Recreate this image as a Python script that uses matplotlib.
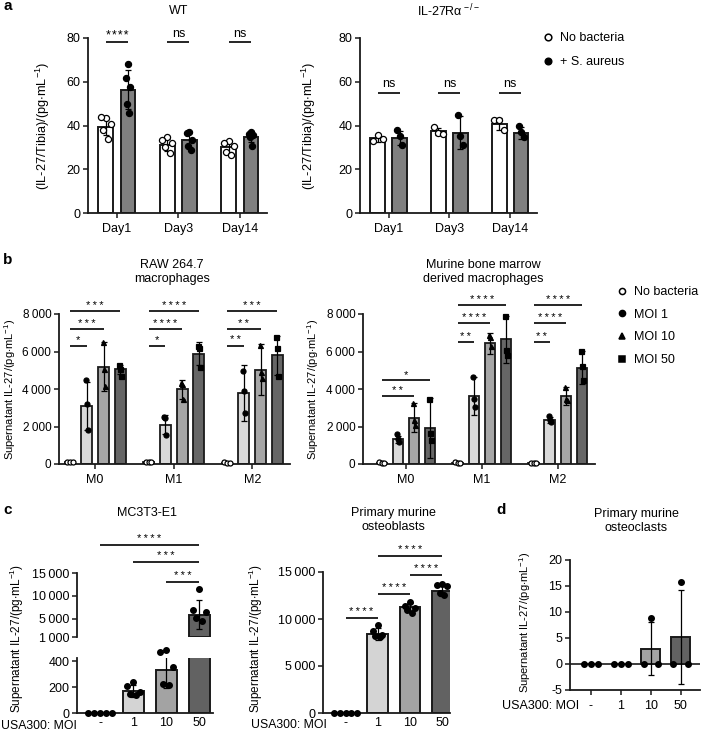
import numpy as np
import matplotlib
matplotlib.use("Agg")
import matplotlib.pyplot as plt
from matplotlib.lines import Line2D

W, H = 701, 733
plt.rcParams['font.family'] = ['Liberation Sans', 'DejaVu Sans']
plt.rcParams['font.size'] = 9
plt.rcParams['mathtext.fontset'] = 'custom'
plt.rcParams['mathtext.rm'] = 'Liberation Sans'
plt.rcParams['mathtext.default'] = 'regular'

# ---------------- panel a data ----------------
days = ["Day1", "Day3", "Day14"]
wt_ctrl_mean = [39.5, 31.2, 30.3]
wt_ctrl_sd = [3.8, 2.7, 2.5]
wt_ctrl_pts = [[43.4, 43.9, 40.8, 37.8, 33.8], [34.6, 33.5, 32.0, 30.0, 27.4], [33.0, 32.0, 30.5, 28.0, 26.7]]
wt_sa_mean = [56.4, 33.3, 34.8]
wt_sa_sd = [9.0, 3.3, 2.5]
wt_sa_pts = [[68.3, 61.7, 57.6, 50.0, 45.7], [36.9, 36.5, 33.5, 30.5, 28.6], [36.9, 36.0, 35.8, 34.7, 30.5]]
ko_ctrl_mean = [34.1, 37.4, 40.7]
ko_ctrl_sd = [1.5, 1.6, 2.7]
ko_ctrl_pts = [[32.8, 35.8, 33.8], [39.3, 36.8, 36.2], [42.7, 42.4, 37.8]]
ko_sa_mean = [34.3, 36.8, 36.6]
ko_sa_sd = [3.4, 7.6, 2.8]
ko_sa_pts = [[37.8, 35.0, 30.9], [45.0, 35.0, 30.9], [39.9, 36.9, 34.7]]
wt_sig = ["****", "ns", "ns"]
ko_sig = ["ns", "ns", "ns"]
wt_sig_y = 78
ko_sig_y = 55

# ---------------- panel b data ----------------
phenos = ["M0", "M1", "M2"]
moi_names = ["No bacteria", "MOI 1", "MOI 10", "MOI 50"]
raw_mean = [[100, 3080, 5200, 5050], [100, 2100, 3980, 5880], [80, 3800, 5040, 5800]]
raw_sd = [[20, 1290, 1300, 250], [20, 500, 520, 620], [20, 1490, 1350, 1050]]
raw_pts = [
    [[110, 100, 90], [4460, 3190, 1800], [6500, 5080, 4160], [5260, 5080, 4690]],
    [[110, 100, 90], [2510, 2480, 1540], [4320, 4280, 3490], [6270, 6200, 5200]],
    [[90, 80, 70], [4980, 3880, 2700], [6370, 4900, 4600], [6800, 6190, 4700]],
]
# (group, from bar, to bar, height, label)
raw_sig = [
    (0, 0, 1, 6320, "*"), (0, 0, 2, 7200, "***"), (0, 0, 3, 8140, "***"),
    (1, 0, 1, 6320, "*"), (1, 0, 2, 7200, "****"), (1, 0, 3, 8140, "****"),
    (2, 0, 1, 6320, "**"), (2, 0, 2, 7200, "**"), (2, 0, 3, 8140, "***"),
]
bmdm_mean = [[80, 1320, 2470, 1900], [80, 3640, 6430, 6650], [70, 2350, 3640, 5140]]
bmdm_sd = [[20, 200, 770, 1600], [20, 1020, 570, 1250], [20, 150, 480, 890]]
bmdm_pts = [
    [[90, 80, 70], [1600, 1316, 1190], [3236, 2347, 2080], [3450, 1636, 1280]],
    [[90, 80, 70], [4660, 3450, 3060], [6880, 6760, 6290], [7900, 6080, 5810]],
    [[80, 70, 60], [2580, 2350, 2260], [4120, 3450, 3410], [6030, 5230, 4480]],
]
bmdm_sig = [
    (0, 0, 2, 3640, "**"), (0, 0, 3, 4480, "*"),
    (1, 0, 1, 6490, "**"), (1, 0, 2, 7500, "****"), (1, 0, 3, 8480, "****"),
    (2, 0, 1, 6490, "**"), (2, 0, 2, 7500, "****"), (2, 0, 3, 8480, "****"),
]

# ---------------- panel c / d data ----------------
moi_ticks = ["-", "1", "10", "50"]
mc3t3_mean = [0, 170, 333, 5900]
mc3t3_sd = [0, 50, 140, 3100]
mc3t3_pts = [[0, 0, 0, 0, 0], [236, 205, 165, 150, 140], [487, 474, 354, 226, 218],
             [11500, 7000, 6500, 5150, 4580]]
mc3t3_sig = [(2, 3, 13030, "***"), (1, 3, 17320, "***"), (0, 3, 21040, "****")]

ob_mean = [0, 8400, 11240, 13010]
ob_sd = [0, 600, 420, 520]
ob_pts = [[0, 0, 0, 0, 0], [9400, 8690, 8330, 8160, 8050], [11800, 11420, 11170, 11000, 10640],
          [13720, 13650, 13480, 12770, 12590]]
ob_sig = [(0, 1, 10100, "****"), (1, 2, 12660, "****"), (2, 3, 14650, "****"), (1, 3, 16670, "****")]

oc_mean = [0, 0, 2.9, 5.2]
oc_sd = [0, 0, 5.1, 9.0]
oc_pts = [[0, 0, 0], [0, 0, 0], [0, 8.8, 0], [0, 15.7, 0]]

EDGE = '#1a1a1a'
TS = "\u2009"  # thin space used as thousands separator
b_colors = ['white', '#d9d9d9', '#a6a6a6', '#666666']
c_colors = ['white', '#d4d4d4', '#a3a3a3', '#626262']
b_markers = ['o', 'o', '^', 's']
b_faces = ['white', 'k', 'k', 'k']


def px_axes(fig, x0, y0, x1, y1):
    return fig.add_axes([x0 / W, 1 - y1 / H, (x1 - x0) / W, (y1 - y0) / H])


def style(ax, fs=9):
    for s in ['top', 'right']:
        ax.spines[s].set_visible(False)
    for s in ['left', 'bottom']:
        ax.spines[s].set_linewidth(1.3)
        ax.spines[s].set_color(EDGE)
    ax.tick_params(direction='out', length=3.5, width=1.1, color=EDGE, labelsize=fs, pad=2)


def thousands(vals):
    return [f"{v:,}".replace(",", TS) for v in vals]


def jitter(n):
    if n == 3:
        return np.array([-1.0, 0.0, 1.0])
    return np.array([0.0, -1.0, 1.0, -0.5, 0.5])[:n]


def bar_with_dots(ax, x, mean, sd, pts, width, color, marker='o', mfc='k', spread=0.05, ms=3.6,
                  lw=1.4, bottom=0):
    ax.bar(x, mean - bottom, width, bottom=bottom, color=color, edgecolor=EDGE, linewidth=lw, zorder=2)
    if sd > 0:
        ax.errorbar(x, mean, yerr=sd, fmt='none', ecolor='k', elinewidth=0.9, capsize=2.5,
                    capthick=0.9, zorder=3)
    pts = np.asarray(pts, dtype=float)
    ax.plot(x + spread * jitter(len(pts)), pts, linestyle='none', marker=marker, ms=ms,
            mfc=mfc, mec='k', mew=0.9, zorder=4, clip_on=False)


def sig_line(ax, x1, x2, y, label, fs=8, off=2.0):
    ax.plot([x1, x2], [y, y], color='k', lw=1.2, clip_on=False, solid_capstyle='butt')
    ax.annotate(label, xy=((x1 + x2) / 2, y), xytext=(0, off), textcoords='offset points',
                ha='center', va='baseline', fontsize=fs, annotation_clip=False)


fig = plt.figure(figsize=(W / 100, H / 100), dpi=100)

# ================= panel a =================
a_off, a_w = 0.18, 0.24
ylab_a = r"(IL-27/Tibia)/(pg$\cdot$mL$^{-1}$)"
for (x0, x1, cm, cs, cp, sm, ss, sp, sig, sy, title, tx, ylx) in [
        (88, 267, wt_ctrl_mean, wt_ctrl_sd, wt_ctrl_pts, wt_sa_mean, wt_sa_sd, wt_sa_pts,
         wt_sig, wt_sig_y, "WT", 179, 52),
        (360, 537, ko_ctrl_mean, ko_ctrl_sd, ko_ctrl_pts, ko_sa_mean, ko_sa_sd, ko_sa_pts,
         ko_sig, ko_sig_y, r"IL-27R$\alpha$ $^{-/-}$", 448, 318)]:
    ax = px_axes(fig, x0, 38, x1, 213)
    style(ax)
    for i in range(len(days)):
        bar_with_dots(ax, i - a_off, cm[i], cs[i], cp[i], a_w, 'white', 'o', 'white', spread=0.08, ms=4.4)
        bar_with_dots(ax, i + a_off, sm[i], ss[i], sp[i], a_w, '#808080', 'o', 'k', spread=0.04, ms=4.4)
        lab = sig[i] if sig[i] == 'ns' else "\u200a".join(sig[i])
        sig_line(ax, i - a_off, i + a_off, sy, lab, fs=9, off=4.0 if sig[i] == 'ns' else 2.5)
    ax.set_xlim(-0.47, 2.44)
    ax.set_ylim(0, 80)
    ax.set_yticks([0, 20, 40, 60, 80])
    ax.set_xticks(range(len(days)))
    ax.set_xticklabels(days)
    ax.tick_params(axis='x', pad=4)
    ax.set_ylabel(ylab_a, fontsize=9.2)
    ax.yaxis.set_label_coords((ylx - x0) / (x1 - x0), 0.5)
    fig.text(tx / W, 1 - 11 / H, title, ha='center', va='center', fontsize=9)

fig.legend(handles=[Line2D([], [], ls='none', marker='o', ms=4.8, mfc='white', mec='k', mew=1.1),
                    Line2D([], [], ls='none', marker='o', ms=4.8, mfc='k', mec='k')],
           labels=["No bacteria", "+ S. aureus"], loc='upper left',
           bbox_to_anchor=(542 / W, 1 - 32 / H), frameon=False, fontsize=9,
           handlelength=1.0, handletextpad=0.45, labelspacing=0.95, borderpad=0, borderaxespad=0)

# ================= panel b =================
b_offs = [-0.32, -0.108, 0.108, 0.32]
b_w = 0.136
ylab_s = r"Supernatant IL-27/(pg$\cdot$mL$^{-1}$)"
for (x0, x1, xl, means, sds, pts, sigs, title, tx, ylx) in [
        (59, 290, (-0.459, 2.48), raw_mean, raw_sd, raw_pts, raw_sig,
         "RAW 264.7\nmacrophages", 172, 18),
        (363, 595, (-0.566, 2.49), bmdm_mean, bmdm_sd, bmdm_pts, bmdm_sig,
         "Murine bone marrow\nderived macrophages", 483, 321)]:
    ax = px_axes(fig, x0, 314, x1, 464)
    style(ax, fs=8.5)
    for g in range(len(phenos)):
        for k in range(len(moi_names)):
            bar_with_dots(ax, g + b_offs[k], means[g][k], sds[g][k], pts[g][k], b_w, b_colors[k],
                          b_markers[k], b_faces[k], spread=0.035 if k == 0 else 0.012, ms=3.6, lw=1.3)
    for (g, i1, i2, y, lab) in sigs:
        sig_line(ax, g + b_offs[i1], g + b_offs[i2], y, "\u2009".join(lab), fs=8, off=1.5)
    ax.set_xlim(*xl)
    ax.set_ylim(0, 8000)
    ax.set_yticks([0, 2000, 4000, 6000, 8000])
    ax.set_yticklabels(thousands([0, 2000, 4000, 6000, 8000]))
    ax.set_xticks(range(len(phenos)))
    ax.set_xticklabels(phenos, fontsize=9)
    ax.tick_params(axis='x', pad=4)
    ax.set_ylabel(ylab_s, fontsize=8.0)
    ax.yaxis.set_label_coords((ylx - x0) / (x1 - x0), 0.5)
    fig.text(tx / W, 1 - 272 / H, title, ha='center', va='center', fontsize=9, linespacing=1.2)

fig.legend(handles=[Line2D([], [], ls='none', marker=m, ms=4.4, mfc=f, mec='k', mew=1.1)
                    for m, f in zip(b_markers, b_faces)],
           labels=moi_names, loc='upper left', bbox_to_anchor=(616 / W, 1 - 286 / H), frameon=False,
           fontsize=9, handlelength=1.0, handletextpad=0.4, labelspacing=0.85, borderpad=0,
           borderaxespad=0)

# ================= panel c left (broken axis) =================
c_w = 0.64
cx0, cx1 = 77, 213
c_xl = (-0.7, 3.42)
ax_up = px_axes(fig, cx0, 573, cx1, 637)
ax_lo = px_axes(fig, cx0, 658, cx1, 713)
for ax in (ax_up, ax_lo):
    style(ax)
    ax.set_xlim(*c_xl)
ax_up.spines['bottom'].set_visible(False)
ax_up.tick_params(axis='x', bottom=False, labelbottom=False)
ax_up.set_ylim(1000, 15000)
ax_up.set_yticks([1000, 5000, 10000, 15000])
ax_up.set_yticklabels(thousands([1000, 5000, 10000, 15000]))
ax_lo.set_ylim(0, 425)
ax_lo.set_yticks([0, 200, 400])
up_floor = ax_up.get_ylim()[0]
for i in range(len(moi_ticks)):
    bar_with_dots(ax_lo, i, mc3t3_mean[i], mc3t3_sd[i], [], c_w, c_colors[i])
    if mc3t3_mean[i] > up_floor:
        bar_with_dots(ax_up, i, mc3t3_mean[i], mc3t3_sd[i], [], c_w, c_colors[i], bottom=up_floor)
    pts = np.asarray(mc3t3_pts[i], dtype=float)
    spread = 0.18 if i == 0 else 0.2
    xs = i + spread * (np.arange(len(pts)) - 2 if i == 0 else jitter(len(pts)))
    hi = pts >= up_floor
    ax_up.plot(xs[hi], pts[hi], ls='none', marker='o', ms=4.0, mfc='k', mec='k', zorder=4)
    ax_lo.plot(xs[~hi], pts[~hi], ls='none', marker='o', ms=4.0, mfc='k', mec='k', zorder=4,
               clip_on=False)
for (i1, i2, y, lab) in mc3t3_sig:
    sig_line(ax_up, i1, i2, y, "\u2009".join(lab), fs=8, off=2.5)
ax_lo.set_xticks(range(len(moi_ticks)))
ax_lo.set_xticklabels(moi_ticks)
ax_lo.tick_params(axis='x', length=0, pad=3)
fig.text(17 / W, 1 - 638 / H, ylab_s, rotation=90, ha='center', va='center', fontsize=8.5)
fig.text(147 / W, 1 - 513 / H, "MC3T3-E1", ha='center', va='center', fontsize=9)
fig.text(1 / W, 1 - 726 / H, "USA300: MOI", ha='left', va='center', fontsize=8.8)

# ================= panel c right =================
ax = px_axes(fig, 323, 572, 450, 713)
style(ax)
for i in range(len(moi_ticks)):
    spread = 0.18 if i == 0 else 0.15
    bar_with_dots(ax, i, ob_mean[i], ob_sd[i], [], c_w, c_colors[i])
    pts = np.asarray(ob_pts[i], dtype=float)
    xs = i + spread * (np.arange(len(pts)) - 2 if i == 0 else jitter(len(pts)))
    ax.plot(xs, pts, ls='none', marker='o', ms=4.0, mfc='k', mec='k', zorder=4, clip_on=False)
for (i1, i2, y, lab) in ob_sig:
    sig_line(ax, i1, i2, y, "\u2009".join(lab), fs=8, off=2.5)
ax.set_xlim(-0.7, 3.25)
ax.set_ylim(0, 15000)
ax.set_yticks([0, 5000, 10000, 15000])
ax.set_yticklabels(thousands([0, 5000, 10000, 15000]))
ax.set_xticks(range(len(moi_ticks)))
ax.set_xticklabels(moi_ticks)
ax.tick_params(axis='x', length=0, pad=3)
ax.set_ylabel(ylab_s, fontsize=8.5)
ax.yaxis.set_label_coords((265 - 323) / (450 - 323), 0.53)
fig.text(393 / W, 1 - 520 / H, "Primary murine\nosteoblasts", ha='center', va='center',
         fontsize=9, linespacing=1.2)
fig.text(251 / W, 1 - 725 / H, "USA300: MOI", ha='left', va='center', fontsize=8.8)

# ================= panel d =================
ax = px_axes(fig, 570, 560, 700, 690)
style(ax)
for i in range(len(moi_ticks)):
    if oc_mean[i] > 0:
        bar_with_dots(ax, i, oc_mean[i], oc_sd[i], [], c_w, c_colors[i])
    pts = np.asarray(oc_pts[i], dtype=float)
    ax.plot(i + 0.24 * jitter(len(pts)), pts, ls='none', marker='o', ms=4.0, mfc='k', mec='k',
            zorder=4, clip_on=False)
ax.axhline(0, color=EDGE, lw=1.2, zorder=1)
ax.set_xlim(-0.7, 3.65)
ax.set_ylim(-5, 20)
ax.set_yticks([-5, 0, 5, 10, 15, 20])
ax.set_yticklabels(["-5", "0", "5", "10", "15", "20"])
ax.set_xticks(range(len(moi_ticks)))
ax.set_xticklabels(moi_ticks)
ax.tick_params(axis='x', pad=4)
ax.set_ylabel(ylab_s, fontsize=8)
ax.yaxis.set_label_coords((533 - 570) / (700 - 570), 0.52)
fig.text(636 / W, 1 - 521 / H, "Primary murine\nosteoclasts", ha='center', va='center',
         fontsize=9, linespacing=1.2)
fig.text(502 / W, 1 - 706 / H, "USA300: MOI", ha='left', va='center', fontsize=9)

# panel letters
for lab, x, y in [("a", 3, 6), ("b", 3, 260), ("c", 3, 510), ("d", 496, 510)]:
    fig.text(x / W, 1 - y / H, lab, ha='left', va='center', fontsize=11, fontweight='bold')

fig.savefig("out.png", dpi=100)
